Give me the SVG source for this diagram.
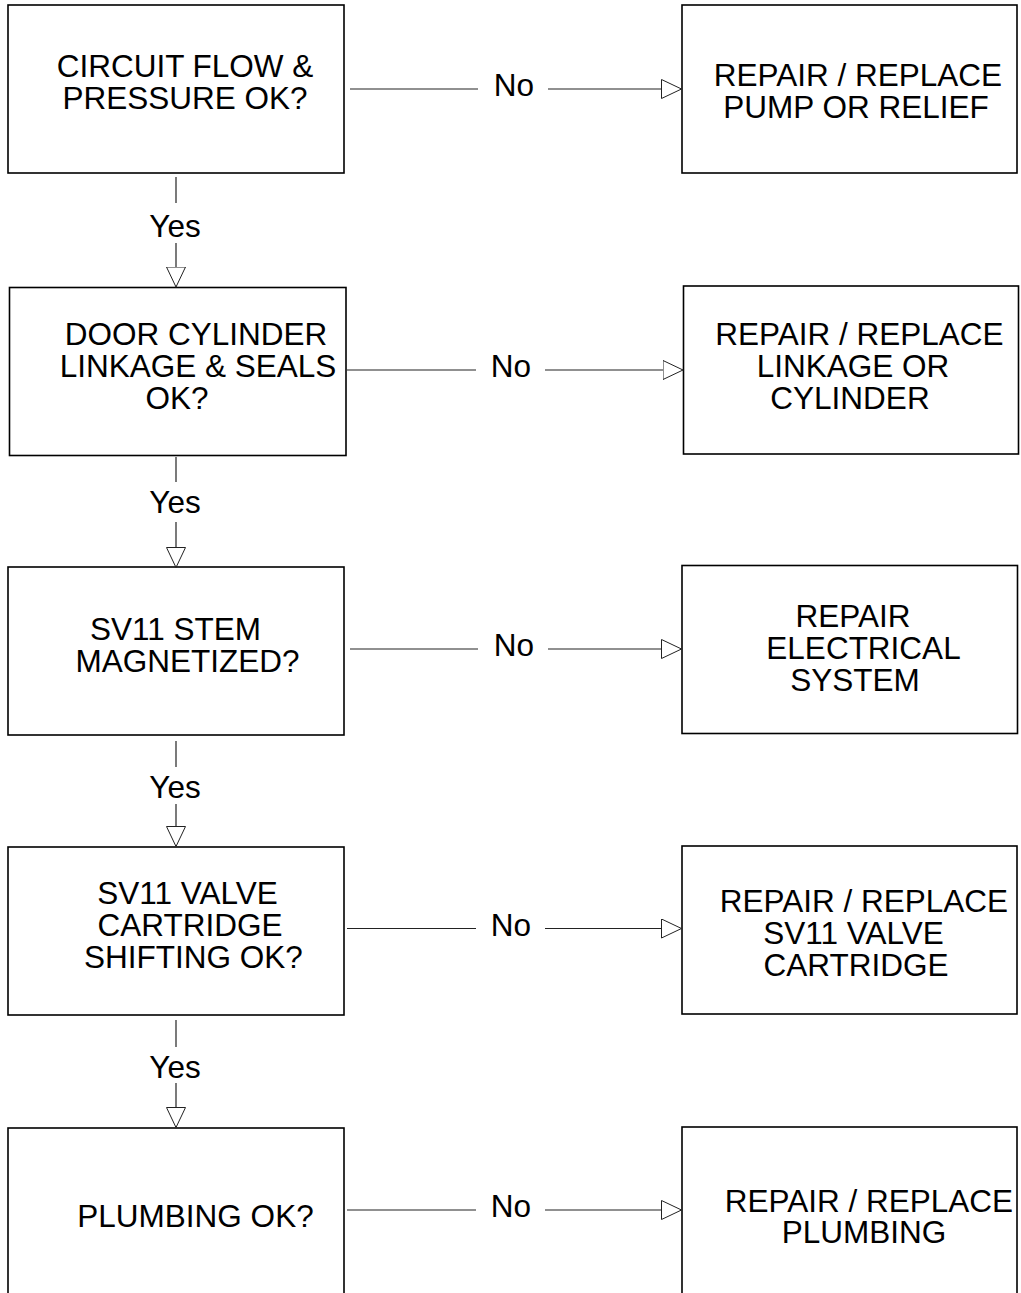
<svg xmlns="http://www.w3.org/2000/svg" width="1021" height="1293" viewBox="0 0 1021 1293">
<style>
.box{fill:#fff;stroke:#000;stroke-width:1.6}
.t{font-family:"Liberation Sans",Arial,Helvetica,sans-serif;font-size:31.5px;fill:#000;text-anchor:middle}
.c{stroke:#222;stroke-width:1.2;fill:none}
</style>
<defs>
<marker id="arr" viewBox="0 0 21 20" refX="21" refY="10" markerWidth="21" markerHeight="20" markerUnits="userSpaceOnUse" orient="auto">
<path d="M0.5,0.5 L20.5,10 L0.5,19.5 Z" fill="#fff" stroke="#222" stroke-width="1"/>
</marker>
</defs>
<rect width="1021" height="1293" fill="#fff"/>

<g id="q1"><rect class="box" x="8" y="5" width="336" height="168"/>
<text class="t"><tspan x="185" y="77">CIRCUIT FLOW &amp;</tspan><tspan x="185" y="109">PRESSURE OK?</tspan></text></g>
<g id="a1"><rect class="box" x="682" y="5" width="335" height="168"/>
<text class="t"><tspan x="858" y="86">REPAIR / REPLACE</tspan><tspan x="856" y="118">PUMP OR RELIEF</tspan></text></g>

<g id="q2"><rect class="box" x="9.5" y="287.5" width="336.5" height="168"/>
<text class="t"><tspan x="196" y="345">DOOR CYLINDER</tspan><tspan x="198" y="377">LINKAGE &amp; SEALS</tspan><tspan x="177" y="409">OK?</tspan></text></g>
<g id="a2"><rect class="box" x="683.5" y="286" width="335" height="168"/>
<text class="t"><tspan x="859.5" y="345">REPAIR / REPLACE</tspan><tspan x="853" y="377">LINKAGE OR</tspan><tspan x="850" y="409">CYLINDER</tspan></text></g>

<g id="q3"><rect class="box" x="8" y="567" width="336" height="168"/>
<text class="t"><tspan x="175.5" y="640">SV11 STEM</tspan><tspan x="187.5" y="672">MAGNETIZED?</tspan></text></g>
<g id="a3"><rect class="box" x="682" y="565.5" width="335.5" height="168"/>
<text class="t"><tspan x="853" y="627">REPAIR</tspan><tspan x="863.5" y="659">ELECTRICAL</tspan><tspan x="855" y="691">SYSTEM</tspan></text></g>

<g id="q4"><rect class="box" x="8" y="847" width="336" height="168"/>
<text class="t"><tspan x="187.5" y="904">SV11 VALVE</tspan><tspan x="190" y="936">CARTRIDGE</tspan><tspan x="193.5" y="968">SHIFTING OK?</tspan></text></g>
<g id="a4"><rect class="box" x="682" y="846" width="335" height="168"/>
<text class="t"><tspan x="864" y="912">REPAIR / REPLACE</tspan><tspan x="853.5" y="944">SV11 VALVE</tspan><tspan x="856" y="976">CARTRIDGE</tspan></text></g>

<g id="q5"><rect class="box" x="8" y="1128" width="336" height="168"/>
<text class="t"><tspan x="195.5" y="1227">PLUMBING OK?</tspan></text></g>
<g id="a5"><rect class="box" x="682" y="1127" width="335" height="168"/>
<text class="t"><tspan x="869" y="1212">REPAIR / REPLACE</tspan><tspan x="864" y="1243">PLUMBING</tspan></text></g>

<g id="connectors">
<path class="c" d="M350,89 H478"/><path class="c" d="M548,89 H682" marker-end="url(#arr)"/>
<text class="t" x="514" y="96">No</text>
<path class="c" d="M347,370 H476"/><path class="c" d="M545,370 H683.5" marker-end="url(#arr)"/>
<text class="t" x="511" y="377">No</text>
<path class="c" d="M350,649 H478"/><path class="c" d="M548,649 H682" marker-end="url(#arr)"/>
<text class="t" x="514" y="656">No</text>
<path class="c" d="M347,928.5 H476"/><path class="c" d="M545,928.5 H682" marker-end="url(#arr)"/>
<text class="t" x="511" y="936">No</text>
<path class="c" d="M347,1210 H476"/><path class="c" d="M545,1210 H682" marker-end="url(#arr)"/>
<text class="t" x="511" y="1217">No</text>

<path class="c" d="M176,177 V203"/><path class="c" d="M176,243 V287.5" marker-end="url(#arr)"/>
<text class="t" x="175" y="237">Yes</text>
<path class="c" d="M176,457 V482"/><path class="c" d="M176,522 V568" marker-end="url(#arr)"/>
<text class="t" x="175" y="513">Yes</text>
<path class="c" d="M176,741 V767"/><path class="c" d="M176,804 V847" marker-end="url(#arr)"/>
<text class="t" x="175" y="798">Yes</text>
<path class="c" d="M176,1020 V1047"/><path class="c" d="M176,1083 V1128" marker-end="url(#arr)"/>
<text class="t" x="175" y="1078">Yes</text>
</g>
</svg>
